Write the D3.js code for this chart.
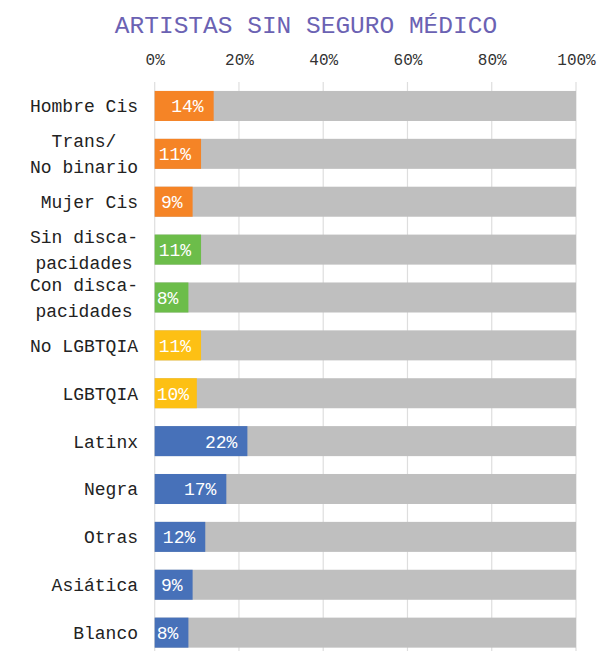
<!DOCTYPE html>
<html>
<head>
<meta charset="utf-8">
<script src="https://cdn.jsdelivr.net/npm/d3@7"></script>
<style>
  body { margin: 0; background: #fff; }
  text { font-family: "Liberation Mono", "DejaVu Sans Mono", monospace; }
</style>
</head>
<body>
<div id="svgcontainer"></div>
<script>
var width = 600;
var height = 651;

// data
var categories = ["Hombre Cis", "Trans/\nNo binario", "Mujer Cis",
                  "Sin disca-\npacidades", "Con disca-\npacidades",
                  "No LGBTQIA", "LGBTQIA",
                  "Latinx", "Negra", "Otras", "Asiática", "Blanco"];
var values = [14, 11, 9, 11, 8, 11, 10, 22, 17, 12, 9, 8];
var groups = ["genero", "genero", "genero",
              "discapacidad", "discapacidad",
              "lgbtqia", "lgbtqia",
              "raza", "raza", "raza", "raza", "raza"];
var tickValues = [0, 20, 40, 60, 80, 100];

var groupColor = {
   genero: "#f58426",
   discapacidad: "#6cbd4a",
   lgbtqia: "#fdc014",
   raza: "#4771b9"
};

var svg = d3.select("#svgcontainer")
   .append("svg")
   .attr("width", width)
   .attr("height", height);

svg.append("rect")
   .attr("width", width)
   .attr("height", height)
   .attr("fill", "#fff");

var x = d3.scaleLinear()
   .domain([0, 100])
   .range([154.7, 576]);

var y = d3.scaleBand()
   .domain(categories)
   .range([82, 656.6])
   .paddingInner(0.373)
   .paddingOuter(0.187);

// title
svg.append("text")
   .attr("x", 306)
   .attr("y", 33)
   .attr("text-anchor", "middle")
   .attr("font-size", 24.5)
   .attr("fill", "#6b62b3")
   .text("ARTISTAS SIN SEGURO MÉDICO");

// grid
svg.append("g")
   .selectAll("line")
   .data(tickValues)
   .join("line")
   .attr("x1", d => x(d))
   .attr("x2", d => x(d))
   .attr("y1", 82)
   .attr("y2", height)
   .attr("stroke", "#dedede")
   .attr("stroke-width", 1.2);

// top axis
var xAxis = d3.axisTop(x)
   .tickValues(tickValues)
   .tickFormat(d => d + "%")
   .tickSize(0)
   .tickPadding(0);

var ax = svg.append("g")
   .attr("transform", "translate(0,65)")
   .call(xAxis);
ax.select(".domain").remove();
ax.selectAll("text")
   .attr("font-size", 16)
   .attr("fill", "#333")
   .attr("font-family", "Liberation Mono")
   .attr("dy", 0);

// background bars
svg.append("g")
   .selectAll("rect")
   .data(categories)
   .join("rect")
   .attr("x", x(0))
   .attr("y", d => y(d))
   .attr("width", x(100) - x(0))
   .attr("height", y.bandwidth())
   .attr("fill", "#bfbfbf");

// value bars
svg.append("g")
   .selectAll("rect")
   .data(categories)
   .join("rect")
   .attr("x", x(0))
   .attr("y", d => y(d))
   .attr("width", (d, i) => x(values[i]) - x(0))
   .attr("height", y.bandwidth())
   .attr("fill", (d, i) => groupColor[groups[i]]);

// value labels
var labels = svg.append("g")
   .selectAll("text")
   .data(categories)
   .join("text")
   .attr("y", d => y(d) + y.bandwidth() / 2)
   .attr("dy", "0.36em")
   .attr("text-anchor", "end")
   .attr("font-size", 18)
   .attr("fill", "#fff")
   .text((d, i) => values[i] + "%");

labels.each(function(d, i) {
   var w = this.getComputedTextLength();
   var end = Math.max(x(values[i]) - 10, x(0) + 2 + w);
   d3.select(this).attr("x", end);
});

// category labels
var lineH = 26;
var fs = 18;
var cat = svg.append("g")
   .selectAll("text")
   .data(categories)
   .join("text")
   .attr("font-size", fs)
   .attr("fill", "#222");

cat.each(function(d) {
   var lines = d.split("\n");
   var t = d3.select(this);
   var cy = y(d) + y.bandwidth() / 2;
   if (lines.length == 1) {
      t.append("tspan")
         .attr("x", 138)
         .attr("y", cy)
         .attr("dy", "0.36em")
         .attr("text-anchor", "end")
         .text(lines[0]);
   } else {
      var maxLen = d3.max(lines, l => l.length);
      var cw = fs * 0.6;
      var center = 138 - maxLen * cw / 2;
      lines.forEach(function(l, j) {
         t.append("tspan")
            .attr("x", center)
            .attr("y", cy + (j - (lines.length - 1) / 2) * lineH)
            .attr("dy", "0.36em")
            .attr("text-anchor", "middle")
            .text(l);
      });
   }
});
</script>
</body>
</html>
